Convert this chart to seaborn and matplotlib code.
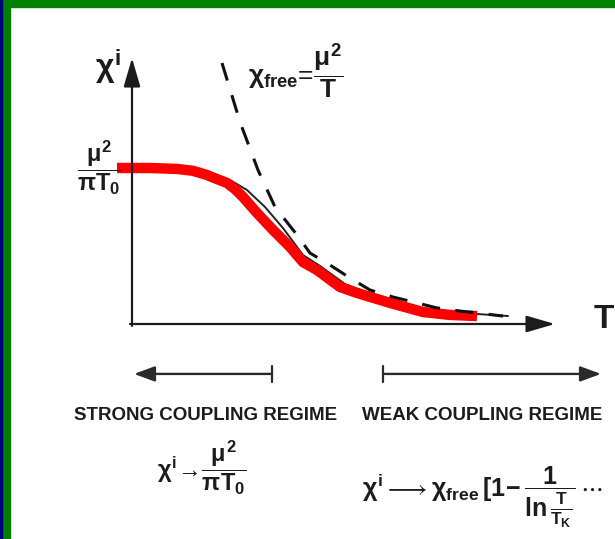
import matplotlib
matplotlib.use("Agg")
import matplotlib.pyplot as plt
from matplotlib.patches import Rectangle
import seaborn as sns

# Susceptibility curves, T in units of 100 px-ish, chi normalised to the plateau mu^2/(pi T0)
red_T = [-0.15, 0.18, 0.45, 0.61, 0.75, 0.85, 0.95, 1.03, 1.11, 1.18, 1.25, 1.41, 1.58,
         1.71, 1.85, 2.08, 2.25, 2.58, 2.91, 3.18, 3.45]
red_chi = [1.0, 1.0, 0.994, 0.982, 0.955, 0.929, 0.904, 0.865, 0.814, 0.763, 0.712, 0.603, 0.494,
           0.397, 0.346, 0.237, 0.199, 0.135, 0.077, 0.058, 0.051]

exact_T = [0.0, 0.68, 0.98, 1.15, 1.33, 1.51, 1.71, 1.88, 2.13, 2.58, 2.98, 3.45, 3.76]
exact_chi = [1.0, 0.981, 0.923, 0.859, 0.750, 0.615, 0.442, 0.372, 0.256, 0.147, 0.090, 0.064, 0.051]

free_T = [0.90, 1.08, 1.26, 1.43, 1.65, 1.78, 1.98, 2.18, 2.38, 2.61, 2.85, 3.05, 3.28, 3.45, 3.71]
free_chi = [1.673, 1.295, 0.987, 0.750, 0.571, 0.455, 0.378, 0.295, 0.218, 0.173, 0.135, 0.103, 0.083, 0.071, 0.051]

regime_labels = ["STRONG COUPLING REGIME", "WEAK COUPLING REGIME"]

W, H = 615, 539
sns.set_theme(style="white")
plt.rcParams["font.family"] = ["Liberation Sans", "DejaVu Sans"]
plt.rcParams["mathtext.fontset"] = "custom"
plt.rcParams["mathtext.rm"] = "Liberation Sans:bold"
plt.rcParams["mathtext.it"] = "Liberation Sans:bold"
plt.rcParams["mathtext.bf"] = "Liberation Sans:bold"

fig = plt.figure(figsize=(W / 100, H / 100), dpi=100)
fig.patch.set_facecolor("white")
ax = fig.add_axes([0, 0, 1, 1])
ax.set_xlim(-1.32, 4.83)
ax.set_ylim((324 - 539) / 156, 324 / 156)
ax.axis("off")


def px(x, y):
    return (x / W, 1 - y / H)


ink = "#1c1c1c"

# coordinate axes with arrow heads
arrow_kw = dict(arrowstyle="-|>,head_length=1.1,head_width=0.32", lw=1.6,
                color=ink, mutation_scale=16, shrinkA=0, shrinkB=0)
ax.annotate("", xy=(0, 1.705), xytext=(0, -0.012), arrowprops=arrow_kw)
ax.annotate("", xy=(4.23, 0), xytext=(-0.02, 0), arrowprops=arrow_kw)

# curves: exact susceptibility, highlighted crossover, free-moment Curie law
sns.lineplot(x=exact_T, y=exact_chi, ax=ax, color="#222222", lw=1.4,
             sort=False, estimator=None)
sns.lineplot(x=red_T, y=red_chi, ax=ax, color="#ff0000", lw=7.5,
             sort=False, estimator=None, solid_capstyle="butt", solid_joinstyle="round")
sns.lineplot(x=free_T, y=free_chi, ax=ax, color="#111111", lw=2.2,
             sort=False, estimator=None)
ax.lines[-1].set_dashes([6, 5])

# regime arrows below the axis
small_arrow = dict(arrowstyle="-|>,head_length=0.9,head_width=0.33", lw=1.7,
                   color="#2a2a2a", mutation_scale=14, shrinkA=0, shrinkB=0)
yb = -0.32
ax.annotate("", xy=(0.02, yb), xytext=(1.40, yb), arrowprops=small_arrow)
ax.annotate("", xy=(4.69, yb), xytext=(2.51, yb), arrowprops=small_arrow)
ax.plot([1.40, 1.40], [yb - 0.05, yb + 0.05], color="#2a2a2a", lw=1.6)
ax.plot([2.51, 2.51], [yb - 0.05, yb + 0.05], color="#2a2a2a", lw=1.6)

tt = ax.transAxes
ax.text(*px(108, 66), r"$\chi^{i}$", transform=tt, fontsize=23, ha="center", va="center", color=ink)
ax.text(*px(99, 168), r"$\dfrac{\mu^2}{\pi T_0}$", transform=tt, fontsize=17, ha="center", va="center", color=ink)
ax.text(*px(248, 84), r"$\chi_{\rm free}$=$\dfrac{\mu^2}{T}$", transform=tt, fontsize=19,
        ha="left", va="baseline", color=ink)
ax.text(*px(594, 320), "T", transform=tt, fontsize=24, fontweight="bold", ha="left", va="center", color=ink)

ax.text(*px(206, 415), regime_labels[0], transform=tt, fontsize=13.5, fontweight="bold",
        ha="center", va="center", color=ink)
ax.text(*px(482, 415), regime_labels[1], transform=tt, fontsize=13.5, fontweight="bold",
        ha="center", va="center", color=ink)

ax.text(*px(157, 478), r"$\chi^{i}\!\rightarrow\!\dfrac{\mu^2}{\pi T_0}$", transform=tt, fontsize=17,
        ha="left", va="baseline", color=ink)
ax.text(*px(362, 497),
        r"$\chi^{i}\longrightarrow\chi_{\rm free}\,[1\!-\!\,\dfrac{1}{\ln\frac{T}{T_K}}\,\cdots$",
        transform=tt, fontsize=18, ha="left", va="baseline", color=ink)

# frame: navy strip and green border
fig.patches.append(Rectangle((0, 0), 10 / W, 1, transform=fig.transFigure, color="#008000", zorder=10))
fig.patches.append(Rectangle((0, 1 - 7 / H), 1, 7 / H, transform=fig.transFigure, color="#008000", zorder=10))
fig.patches.append(Rectangle((0, 0), 2 / W, 1, transform=fig.transFigure, color="#000080", zorder=11))

fig.savefig("out.png", dpi=100)
